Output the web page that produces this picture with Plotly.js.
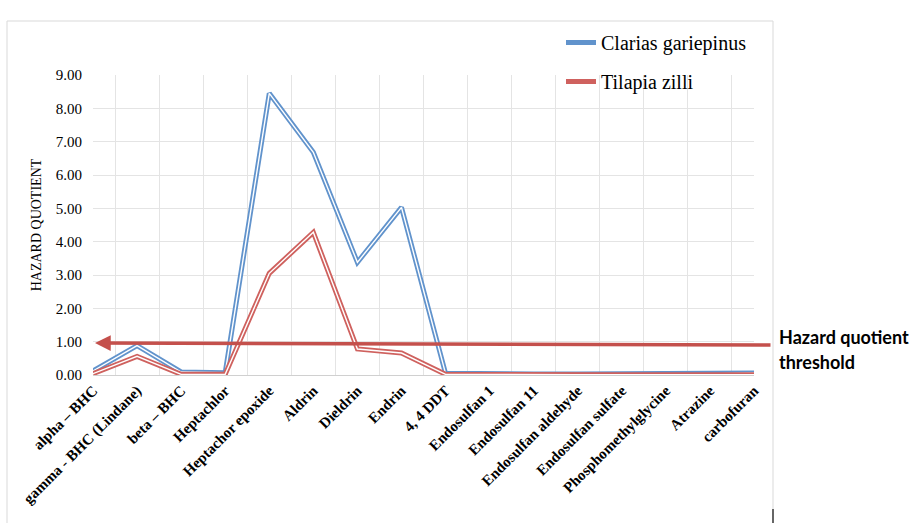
<!DOCTYPE html>
<html>
<head>
<meta charset="utf-8">
<script src="https://cdn.plot.ly/plotly-3.0.1.min.js"></script>
<style>html,body{margin:0;padding:0;background:#fff;}#chart{width:917px;height:523px;}</style>
</head>
<body>
<div id="chart"></div>
<script>
// ---- data ----
const categories = [
  "alpha – BHC", "gamma - BHC (Lindane)", "beta – BHC", "Heptachlor",
  "Heptachor epoxide", "Aldrin", "Dieldrin", "Endrin", "4, 4 DDT",
  "Endosulfan 1", "Endosulfan 11", "Endosulfan aldehyde", "Endosulfan sulfate",
  "Phosphomethylglycine", "Atrazine", "carbofuran"
];
const clarias = [0.12, 0.88, 0.09, 0.07, 8.45, 6.68, 3.38, 5.03, 0.05, 0.03, 0.03, 0.03, 0.03, 0.03, 0.03, 0.06];
const tilapia = [0.04, 0.56, 0.02, 0.02, 3.05, 4.28, 0.78, 0.66, 0.02, 0.01, 0.01, 0.01, 0.01, 0.01, 0.01, 0.01];
const yTicks = [0, 1, 2, 3, 4, 5, 6, 7, 8, 9];
const threshold = 1.0;

const BLUE = "#6193cc";
const RED = "#cf615e";

function doubleLine(name, values, color, group) {
  return [
    {x: categories, y: values, type: "scatter", mode: "lines", name: name,
     legendgroup: group, line: {color: color, width: 5}, hoverinfo: "x+y"},
    {x: categories, y: values, type: "scatter", mode: "lines", name: name,
     legendgroup: group, showlegend: false, line: {color: "#ffffff", width: 1.4}, hoverinfo: "skip"}
  ];
}

const traces = [].concat(
  doubleLine("Clarias gariepinus", clarias, BLUE, "g1"),
  doubleLine("Tilapia zilli", tilapia, RED, "g2")
);

const L = 93, R = 754, T = 75, B = 375, W = 917, H = 523;
const px = v => (v - L) / (R - L);
const py = v => (B - v) / (B - T);
const SERIF = "Liberation Serif, Times New Roman, serif";

const layout = {
  width: W, height: H,
  margin: {l: L, r: W - R, t: T, b: H - B},
  paper_bgcolor: "#ffffff", plot_bgcolor: "#ffffff",
  showlegend: true,
  legend: {
    x: px(561), y: py(23), xanchor: "left", yanchor: "top",
    font: {family: SERIF, size: 20, color: "#000"},
    bgcolor: "rgba(255,255,255,0)", tracegroupgap: 10, traceorder: "grouped"
  },
  xaxis: {
    type: "category", tickson: "boundaries", showgrid: true, gridcolor: "#e4e4e4",
    ticks: "", tickangle: -45, showline: true, linecolor: "#d0d0d0", zeroline: false,
    tickfont: {family: SERIF, size: 15, color: "#000", weight: "bold"},
    automargin: false
  },
  yaxis: {
    range: [0, 9], tickvals: yTicks, ticktext: yTicks.map(v => v.toFixed(2)),
    showgrid: true, gridcolor: "#e4e4e4", zeroline: false, ticks: "",
    ticklabelstandoff: 10,
    tickfont: {family: SERIF, size: 15, color: "#000"},
    title: {text: "HAZARD QUOTIENT", standoff: 10,
            font: {family: SERIF, size: 14, color: "#000"}},
    automargin: false
  },
  shapes: [
    {type: "rect", xref: "paper", yref: "paper", x0: px(7), x1: px(773), y0: py(540), y1: py(21),
     line: {color: "#d9d9d9", width: 1}, fillcolor: "rgba(0,0,0,0)", layer: "below"},
    {type: "line", xref: "paper", yref: "paper", x0: px(773), x1: px(773), y0: py(509), y1: py(523),
     line: {color: "#666666", width: 2}}
  ],
  annotations: [
    {xref: "paper", yref: "y", x: px(95), y: threshold - 0.04, text: " ",
     showarrow: true, axref: "pixel", ayref: "pixel", ax: 772 - 95, ay: 2,
     arrowhead: 2, arrowsize: 0.9, arrowwidth: 3.5, arrowcolor: "#c4504c", standoff: 0, startstandoff: 0,
     font: {size: 1}},
    {xref: "paper", yref: "paper", x: px(777), y: py(337), xanchor: "left", yanchor: "middle",
     text: "<b>Hazard quotient</b>", showarrow: false,
     font: {family: "Lato, Open Sans, sans-serif", size: 18, color: "#000"}},
    {xref: "paper", yref: "paper", x: px(777), y: py(362), xanchor: "left", yanchor: "middle",
     text: "<b>threshold</b>", showarrow: false,
     font: {family: "Lato, Open Sans, sans-serif", size: 18, color: "#000"}}
  ]
};

Plotly.newPlot("chart", traces, layout, {displayModeBar: false, staticPlot: true});
</script>
</body>
</html>
